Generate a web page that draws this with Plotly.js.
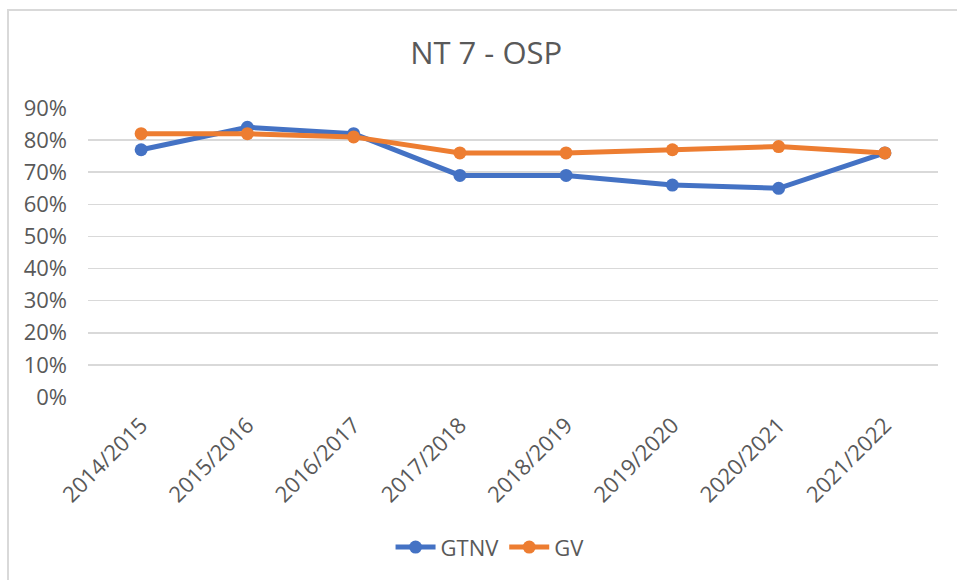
<!DOCTYPE html>
<html>
<head>
<meta charset="utf-8">
<script src="https://cdn.plot.ly/plotly-3.0.1.min.js"></script>
<style>
html,body{margin:0;padding:0;background:#fff;}
#wrap{position:relative;width:957px;height:580px;overflow:hidden;}
#chart{position:absolute;left:0;top:0;width:957px;height:580px;}
#frame{position:absolute;left:7px;top:9px;width:1000px;height:1000px;border-top:2px solid #d9d9d9;border-left:2px solid #d9d9d9;pointer-events:none;}
</style>
</head>
<body>
<div id="wrap"><div id="chart"></div><div id="frame"></div></div>
<script>
const categories = ["2014/2015","2015/2016","2016/2017","2017/2018","2018/2019","2019/2020","2020/2021","2021/2022"];
const gtnv = [0.77, 0.84, 0.82, 0.69, 0.69, 0.66, 0.65, 0.76];
const gv   = [0.82, 0.82, 0.81, 0.76, 0.76, 0.77, 0.78, 0.76];
const seriesNames = ["GTNV", "GV"];
const titleText = "NT 7 - OSP";

const font = "Open Sans, DejaVu Sans, sans-serif";
const traces = [
  {x: categories, y: gtnv, name: seriesNames[0], type: "scatter", mode: "lines+markers",
   line: {color: "#4472C4", width: 5}, marker: {color: "#4472C4", size: 13}},
  {x: categories, y: gv, name: seriesNames[1], type: "scatter", mode: "lines+markers",
   line: {color: "#ED7D31", width: 5}, marker: {color: "#ED7D31", size: 13}}
];
const layout = {
  width: 957, height: 580,
  margin: {l: 88, r: 19, t: 108, b: 183},
  paper_bgcolor: "#fff", plot_bgcolor: "#fff",
  font: {family: font, color: "#595959", size: 22},
  title: {text: titleText, font: {family: font, size: 31, color: "#595959"},
          x: 0.508, xanchor: "center", xref: "container", y: 1 - 53/580, yanchor: "middle", yref: "container"},
  xaxis: {type: "category", tickangle: -45, showgrid: false, zeroline: false, showline: false,
          ticks: "", ticklabelstandoff: 10, tickfont: {size: 22, color: "#595959"}, range: [-0.5, 7.5], fixedrange: true},
  yaxis: {range: [0, 0.9], dtick: 0.1, tickformat: ".0%", showgrid: true, gridcolor: "#d9d9d9", gridwidth: 1.5,
          zeroline: false, showline: false, ticks: "", ticklabelstandoff: 20,
          tickfont: {size: 22, color: "#595959"}, fixedrange: true},
  showlegend: true,
  legend: {orientation: "h", x: 0.473, xanchor: "center", y: -0.52, yanchor: "middle",
           font: {size: 22, color: "#595959"}, itemwidth: 40, traceorder: "normal"},
  hovermode: false
};
Plotly.newPlot("chart", traces, layout, {displayModeBar: false, staticPlot: true});
</script>
</body>
</html>
